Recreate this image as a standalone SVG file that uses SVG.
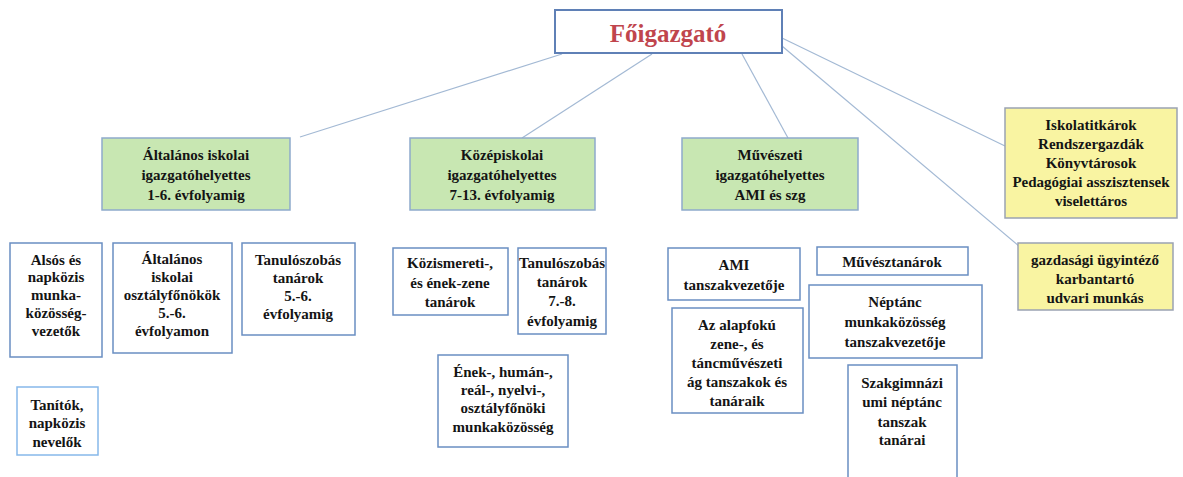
<svg xmlns="http://www.w3.org/2000/svg" width="1183" height="477" viewBox="0 0 1183 477">
<style>
.bg{fill:#ffffff}
.box{fill:#ffffff;stroke:#6a8ec2;stroke-width:1.5}
.lite{fill:#ffffff;stroke:#86b8ea;stroke-width:1.5}
.green{fill:#c8e7b2;stroke:#8eaacc;stroke-width:1.5}
.yellow{fill:#f9f4a2;stroke:#9aa2b2;stroke-width:1.5}
.title{fill:#ffffff;stroke:#5f80b6;stroke-width:2}
text{font-family:"Liberation Serif","Times New Roman",serif;font-weight:bold;font-size:15px;fill:#141414;text-anchor:middle}
.tt{font-size:25px;fill:#c0454d}
.conn line{stroke:#a3b9d4;stroke-width:1.2}
</style>
<rect class="bg" x="0" y="0" width="1183" height="477"/>
<g id="connectors" class="conn">
<line x1="562" y1="54" x2="300" y2="137"/>
<line x1="652" y1="54" x2="522" y2="138"/>
<line x1="742" y1="54" x2="788" y2="138"/>
<line x1="782" y1="38" x2="1005" y2="146"/>
<line x1="782" y1="46" x2="1020" y2="247"/>
</g>
<g id="foigazgato">
<rect class="title" x="555" y="10" width="227" height="43"/>
<text class="tt" x="668" y="42">Főigazgató</text>
</g>
<g id="altalanos-helyettes">
<rect class="green" x="102" y="138" width="188" height="72"/>
<text x="196" y="160">Általános iskolai</text>
<text x="196" y="180">igazgatóhelyettes</text>
<text x="196" y="200">1-6. évfolyamig</text>
</g>
<g id="kozepiskolai-helyettes">
<rect class="green" x="410" y="138" width="185" height="72"/>
<text x="502" y="160">Középiskolai</text>
<text x="502" y="180">igazgatóhelyettes</text>
<text x="502" y="200">7-13. évfolyamig</text>
</g>
<g id="muveszeti-helyettes">
<rect class="green" x="682" y="138" width="176" height="72"/>
<text x="770" y="160">Művészeti</text>
<text x="770" y="180">igazgatóhelyettes</text>
<text x="770" y="200">AMI és szg</text>
</g>
<g id="iskolatitkarok">
<rect class="yellow" x="1005" y="108" width="172" height="110"/>
<text x="1091" y="130">Iskolatitkárok</text>
<text x="1091" y="149">Rendszergazdák</text>
<text x="1091" y="168">Könyvtárosok</text>
<text x="1091" y="187">Pedagógiai asszisztensek</text>
<text x="1091" y="206">viselettáros</text>
</g>
<g id="gazdasagi">
<rect class="yellow" x="1018" y="243" width="155" height="67"/>
<text x="1095" y="265">gazdasági ügyintéző</text>
<text x="1095" y="284">karbantartó</text>
<text x="1095" y="303">udvari munkás</text>
</g>
<g id="alsos">
<rect class="box" x="10" y="243" width="92" height="114"/>
<text x="56" y="265">Alsós és</text>
<text x="56" y="282">napközis</text>
<text x="56" y="300">munka-</text>
<text x="56" y="318">közösség-</text>
<text x="56" y="336">vezetők</text>
</g>
<g id="osztalyfonokok">
<rect class="box" x="113" y="243" width="119" height="110"/>
<text x="172" y="264">Általános</text>
<text x="172" y="282">iskolai</text>
<text x="172" y="300">osztályfőnökök</text>
<text x="172" y="318">5.-6.</text>
<text x="172" y="336">évfolyamon</text>
</g>
<g id="tanuloszobas-56">
<rect class="box" x="242" y="243" width="113" height="92"/>
<text x="298" y="265">Tanulószobás</text>
<text x="298" y="283">tanárok</text>
<text x="298" y="301">5.-6.</text>
<text x="298" y="319">évfolyamig</text>
</g>
<g id="tanitok">
<rect class="lite" x="17" y="387" width="81" height="68"/>
<text x="57" y="410">Tanítók,</text>
<text x="57" y="428">napközis</text>
<text x="57" y="447">nevelők</text>
</g>
<g id="kozismereti">
<rect class="box" x="393" y="248" width="115" height="67"/>
<text x="450" y="268">Közismereti-,</text>
<text x="450" y="288">és ének-zene</text>
<text x="450" y="307">tanárok</text>
</g>
<g id="tanuloszobas-78">
<rect class="box" x="518" y="248" width="88" height="86"/>
<text x="562" y="268">Tanulószobás</text>
<text x="562" y="287">tanárok</text>
<text x="562" y="306">7.-8.</text>
<text x="562" y="326">évfolyamig</text>
</g>
<g id="enek-human">
<rect class="box" x="438" y="355" width="130" height="92"/>
<text x="503" y="377">Ének-, humán-,</text>
<text x="503" y="395">reál-, nyelvi-,</text>
<text x="503" y="413">osztályfőnöki</text>
<text x="503" y="432">munkaközösség</text>
</g>
<g id="ami-tanszakvezeto">
<rect class="box" x="668" y="248" width="132" height="52"/>
<text x="734" y="270">AMI</text>
<text x="734" y="290">tanszakvezetője</text>
</g>
<g id="muvesztanarok">
<rect class="box" x="817" y="247" width="151" height="28"/>
<text x="892" y="267">Művésztanárok</text>
</g>
<g id="neptanc">
<rect class="box" x="809" y="285" width="173" height="73"/>
<text x="895" y="307">Néptánc</text>
<text x="895" y="327">munkaközösség</text>
<text x="895" y="347">tanszakvezetője</text>
</g>
<g id="alapfoku">
<rect class="box" x="672" y="308" width="131" height="105"/>
<text x="737" y="330">Az alapfokú</text>
<text x="737" y="349">zene-, és</text>
<text x="737" y="368">táncművészeti</text>
<text x="737" y="387">ág tanszakok és</text>
<text x="737" y="406">tanáraik</text>
</g>
<g id="szakgimnazi">
<rect class="box" x="848" y="365" width="109" height="120"/>
<text x="902" y="388">Szakgimnázi</text>
<text x="902" y="407">umi néptánc</text>
<text x="902" y="427">tanszak</text>
<text x="902" y="445">tanárai</text>
</g>
</svg>
